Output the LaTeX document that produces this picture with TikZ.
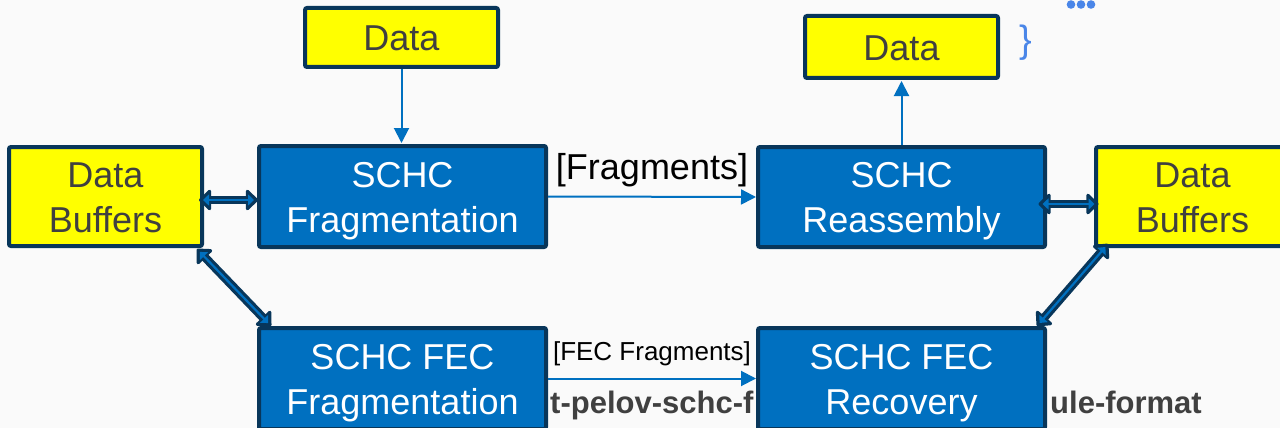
\documentclass[tikz,border=0pt]{standalone}
\usepackage{fontspec}
\setmainfont{Liberation Sans}
\usetikzlibrary{arrows.meta,calc}
\definecolor{bg}{HTML}{FAFAFA}
\definecolor{navy}{RGB}{8,54,90}
\definecolor{boxblue}{HTML}{0070C0}
\definecolor{ylw}{HTML}{FFFF00}
\definecolor{txtgray}{HTML}{404040}
\definecolor{gblue}{HTML}{4A86E8}
\newcommand{\bstrut}{\rule[-9.5pt]{0pt}{45pt}}
\newcommand{\dblarr}[2]{%
  \draw[dblout] #1 -- #2;
  \draw[dblin] #1 -- #2;}
\begin{document}
\begin{tikzpicture}[x=1pt,y=-1pt,
  box/.style={draw=navy, line width=4pt, rounded corners=2pt, inner sep=0pt,
    align=center, font=\fontsize{36}{45}\selectfont},
  ybox/.style={box, fill=ylw, text=txtgray, minimum width=193pt, minimum height=99pt},
  bbox/.style={box, fill=boxblue, text=white, minimum width=287pt, minimum height=101pt},
  thinarrow/.style={draw=boxblue, line width=2pt, -{Triangle[length=15pt,width=15pt]}},
  dblout/.style={draw=navy, line width=8.5pt,
    {Triangle[length=13pt 0 0,width=24pt 0 0,round]}-{Triangle[length=13pt 0 0,width=24pt 0 0,round]}},
  dblin/.style={draw=boxblue, line width=2.2pt,
    {Triangle[length=6pt 0 0,width=11pt 0 0,sep=4pt]}-{Triangle[length=6pt 0 0,width=11pt 0 0,sep=4pt]}},
  lbl/.style={text=black, inner sep=0pt, anchor=base},
  bgtext/.style={text=txtgray, inner sep=0pt, anchor=base west,
    font=\fontsize{31}{36}\selectfont\bfseries}
]
\useasboundingbox (0,0) rectangle (1280,428);
\clip (0,0) rectangle (1280,428);
\fill[bg] (0,0) rectangle (1280,428);

% partially hidden title text behind the boxes
\node[bgtext] (t1) at (550,413) {t-pelov-schc-f};
\node[bgtext] (t2) at (1050,413) {ule-format};

% decorations at top right
\node[text=gblue, inner sep=0pt, font=\fontsize{38}{40}\selectfont] (brace) at (1026,43) {\}};
\fill[gblue] (1071,4.5) circle (4.3) coordinate (d1);
\fill[gblue] (1081,4.5) circle (4.3) coordinate (d2);
\fill[gblue] (1091,4.5) circle (4.3) coordinate (d3);

% boxes
\node[ybox, minimum height=59pt] (dataL) at (401.5,37.5) {\bstrut Data};
\node[ybox, minimum height=62pt] (dataR) at (901.5,47) {\bstrut Data};
\node[ybox] (bufL) at (105.5,196.5) {\bstrut Data\\\bstrut Buffers};
\node[ybox] (bufR) at (1192.5,196.5) {\bstrut Data\\\bstrut Buffers};
\node[bbox] (frag) at (402.5,196.5) {\bstrut SCHC\\\bstrut Fragmentation};
\node[bbox, minimum height=100pt] (reas) at (901.5,197) {\bstrut SCHC\\\bstrut Reassembly};
\node[bbox] (fecF) at (402.5,378.5) {\bstrut SCHC FEC\\\bstrut Fragmentation};
\node[bbox] (fecR) at (901.5,378.5) {\bstrut SCHC FEC\\\bstrut Recovery};

% thin arrows
\draw[thinarrow, shorten >=1pt] (dataL.south) -- (dataL.south |- frag.north);
\draw[thinarrow, shorten >=1pt] (reas.north) -- (reas.north |- dataR.south);
\draw[thinarrow] (frag.east) -- (reas.west)
  node[lbl, midway, yshift=17pt, font=\fontsize{36}{40}\selectfont] (lfrag) {[Fragments]};
\draw[thinarrow] (fecF.east) -- (fecR.west)
  node[lbl, midway, yshift=18pt, font=\fontsize{26}{30}\selectfont] (lfec) {[FEC Fragments]};

% double arrows
\coordinate (a1) at ([xshift=-5pt,yshift=-3.5pt]bufL.east);
\coordinate (a2) at ([xshift=1pt,yshift=-3.5pt]bufL.east -| frag.west);
\dblarr{(a1)}{(a2)}
\coordinate (b1) at ([xshift=-8.5pt,yshift=-7pt]reas.east);
\coordinate (b2) at ([xshift=4.5pt,yshift=-7pt]reas.east -| bufR.west);
\dblarr{(b1)}{(b2)}
\coordinate (c1) at ([xshift=-7pt,yshift=-1pt]bufL.south east);
\coordinate (c2) at ([xshift=14pt]fecF.north west);
\dblarr{(c1)}{(c2)}
\coordinate (e1) at ([xshift=14pt,yshift=4pt]bufR.south west);
\coordinate (e2) at ([xshift=-10pt]fecR.north east);
\dblarr{(e1)}{(e2)}
\end{tikzpicture}
\end{document}
